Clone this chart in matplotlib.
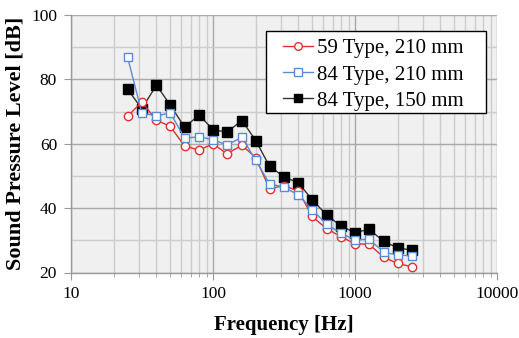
import matplotlib
matplotlib.use('Agg')
import matplotlib.pyplot as plt
from matplotlib.patches import Rectangle
from matplotlib.ticker import FixedLocator, NullFormatter
import numpy as np

plt.rcParams['font.family'] = ['Liberation Serif', 'DejaVu Serif']

# third-octave band centre frequencies (Hz)
freq = [25, 31.5, 40, 50, 63, 80, 100, 125, 160, 200, 250, 315, 400,
        500, 630, 800, 1000, 1250, 1600, 2000, 2500]

spl_59_210 = [68.5, 73.0, 67.3, 65.4, 59.3, 58.0, 60.0, 56.9, 59.5, 55.7, 46.0,
              47.0, 45.3, 37.4, 33.6, 31.1, 28.9, 28.8, 24.7, 22.8, 21.8]
spl_84_210 = [87.0, 69.6, 68.6, 69.6, 61.8, 62.1, 61.3, 59.6, 62.0, 54.8, 47.6,
              46.5, 44.1, 39.5, 35.0, 32.2, 30.1, 30.4, 26.3, 25.4, 25.2]
spl_84_150 = [77.0, 70.9, 78.2, 72.0, 65.2, 68.9, 64.4, 63.6, 67.2, 61.0, 53.0,
              49.8, 47.8, 42.6, 37.9, 34.4, 32.4, 33.4, 29.7, 27.6, 27.0]

labels = ['59 Type, 210 mm', '84 Type, 210 mm', '84 Type, 150 mm']

fig = plt.figure(figsize=(5.19, 3.38), dpi=100)
ax = fig.add_axes([71 / 519, 1 - 272.5 / 338, (497 - 71) / 519, (272.5 - 15) / 338])
ax.set_facecolor('#f0f0f0')

ax.plot(freq, spl_59_210, '-o', color='#e03030', lw=1.0, ms=6,
        mfc='white', mec='#e03030', mew=1.0, label=labels[0], zorder=3)
ax.plot(freq, spl_84_210, '-s', color='#5b8bd6', lw=1.0, ms=6,
        mfc='white', mec='#5b8bd6', mew=1.0, label=labels[1], zorder=4)
ax.plot(freq, spl_84_150, '-s', color='#333333', lw=1.0, ms=6.5,
        mfc='black', mec='black', label=labels[2], zorder=2)

ax.set_xscale('log')
ax.set_xlim(10, 10000)
ax.set_ylim(20, 100)
ax.set_yticks([20, 40, 60, 80, 100])
ax.yaxis.set_minor_locator(FixedLocator([30, 50, 70, 90]))
ax.xaxis.set_minor_formatter(NullFormatter())
ax.set_xticks([10, 100, 1000, 10000])
ax.set_xticklabels(['10', '100', '1000', '10000'])

ax.grid(which='major', color='#a8a8a8', lw=1.0)
ax.grid(which='minor', color='#cccccc', lw=1.0)
ax.set_axisbelow(True)

for side in ['top', 'right']:
    ax.spines[side].set_visible(False)
for side in ['left', 'bottom']:
    ax.spines[side].set_color('#999999')
    ax.spines[side].set_linewidth(1.0)

ax.tick_params(which='major', length=5, color='#999999', labelsize=12.5, pad=5)
ax.tick_params(axis='x', which='minor', length=3, color='#999999')
ax.tick_params(axis='y', which='minor', length=0)

ax.set_xlabel('Frequency [Hz]', fontsize=15, fontweight='bold', labelpad=9)
ax.set_ylabel('Sound Pressure Level [dB]', fontsize=16, fontweight='bold', labelpad=4)

# legend box drawn separately so the entries can sit inset like the original
ax.add_patch(Rectangle((0.458, 0.619), 0.516, 0.319, transform=ax.transAxes,
                       facecolor='white', edgecolor='black', lw=1.0, zorder=5))
leg = ax.legend(loc='upper left', bbox_to_anchor=(0.4977, 0.908), fontsize=15,
                frameon=False, handlelength=1.45, handletextpad=0.2,
                borderpad=0, labelspacing=0.32, borderaxespad=0)
leg.set_zorder(6)
for h in leg.legend_handles:
    h.set_markersize(5.5)

fig.savefig('out.png', dpi=100)
